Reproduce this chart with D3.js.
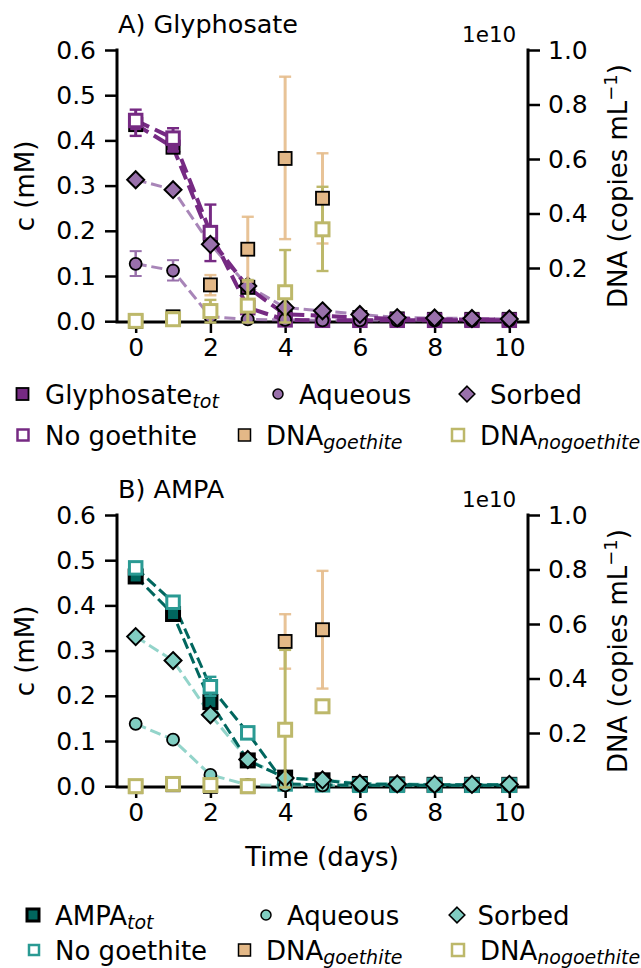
<!DOCTYPE html>
<html><head><meta charset="utf-8">
<script src="https://cdn.jsdelivr.net/npm/d3@7/dist/d3.min.js"></script>
<style>body{margin:0;background:#fff}svg text{font-family:"DejaVu Sans",sans-serif;fill:#000}</style>
</head><body><svg id="c" width="641" height="968"></svg>
<script>
const days = [0,1,2,3,4,5,6,7,8,9,10];
const dnaDays = [0,1,2,3,4,5];
const xTicks = [0,2,4,6,8,10];
const yTicksLeft = [0,0.1,0.2,0.3,0.4,0.5,0.6];
const yTicksRight = [0.2,0.4,0.6,0.8,1.0];

// Glyphosate (mM)
const glyTot     = [0.435,0.385,0.182,0.075,0.015,0.012,0.008,0.005,0.004,0.004,0.004];
const glyAq      = [0.127,0.112,0.010,0.004,0.003,0.002,0.002,0.002,0.002,0.002,0.002];
const glyAqLo    = [0.100,0.090,null,null,null,null,null,null,null,null,null];
const glyAqHi    = [0.155,0.135,null,null,null,null,null,null,null,null,null];
const glySorb    = [0.313,0.291,0.170,0.078,0.030,0.023,0.015,0.008,0.007,0.006,0.005];
const glyNoG     = [0.444,0.405,0.196,0.030,0.003,0.002,0.002,0.002,0.002,0.002,0.002];
const glyNoGLo   = [0.410,0.376,0.133,null,null,null,null,null,null,null,null];
const glyNoGHi   = [0.468,0.427,0.258,null,null,null,null,null,null,null,null];
// Glyphosate DNA (1e10 copies/mL)
const glyDnaG    = [0.004,0.021,0.138,0.269,0.602,0.456];
const glyDnaGLo  = [null,null,0.100,0.150,0.306,0.290];
const glyDnaGHi  = [null,null,0.174,0.388,0.902,0.621];
const glyDnaN    = [0.006,0.012,0.042,0.062,0.111,0.342];
const glyDnaNLo  = [null,null,0.000,0.000,0.000,0.189];
const glyDnaNHi  = [null,null,0.083,0.156,0.266,0.498];

// AMPA (mM)
const amTot      = [0.464,0.381,0.186,0.057,0.019,0.013,0.005,0.004,0.003,0.003,0.003];
const amAq       = [0.138,0.103,0.025,0.003,0.002,0.002,0.002,0.002,0.002,0.002,0.002];
const amSorb     = [0.331,0.278,0.158,0.059,0.018,0.014,0.006,0.005,0.004,0.004,0.004];
const amNoG      = [0.483,0.407,0.220,0.118,0.005,0.003,0.002,0.002,0.002,0.002,0.002];
const amNoGLo    = [null,null,0.200,null,null,null,null,null,null,null,null];
const amNoGHi    = [null,null,0.242,null,null,null,null,null,null,null,null];
// AMPA DNA (1e10 copies/mL)
const amDnaG     = [0.003,0.010,0.004,0.003,0.536,0.579];
const amDnaGLo   = [null,null,null,null,0.436,0.363];
const amDnaGHi   = [null,null,null,null,0.636,0.795];
const amDnaN     = [0.005,0.013,0.009,0.005,0.212,0.298];
const amDnaNLo   = [null,null,null,null,0.000,null];
const amDnaNHi   = [null,null,null,null,0.505,null];

const svg = d3.select("#c");
const FT = 25;   // tick labels
const FL = 26;   // labels / legend
const L = 117, R = 528;
const x = d3.scaleLinear().domain([-0.5,10.5]).range([L,R]);

function sq(g, cx, cy, s, fill, stroke, sw){
  g.append("rect").attr("x",cx-s/2).attr("y",cy-s/2).attr("width",s).attr("height",s)
   .attr("fill",fill).attr("stroke",stroke).attr("stroke-width",sw);
}
function diamond(g,cx,cy,r,fill,stroke,sw){
  g.append("path").attr("d",`M${cx},${cy-r}L${cx+r},${cy}L${cx},${cy+r}L${cx-r},${cy}Z`)
   .attr("fill",fill).attr("stroke",stroke).attr("stroke-width",sw);
}
function circ(g,cx,cy,r,fill,stroke,sw){
  g.append("circle").attr("cx",cx).attr("cy",cy).attr("r",r).attr("fill",fill).attr("stroke",stroke).attr("stroke-width",sw);
}
function dashLine(g, xs, vals, y, color, w, op){
  const line = d3.line().x((d,i)=>x(xs[i])).y(d=>y(d));
  g.append("path").datum(vals).attr("d",line).attr("fill","none").attr("stroke",color)
   .attr("stroke-width",w).attr("stroke-dasharray",`${w*3.7},${w*1.6}`).attr("opacity",op);
}
function errBars(g, xs, lo, hi, y, color, w, cap, op){
  xs.forEach((d,i)=>{
    if(lo[i]==null) return;
    const cx = x(d), y1=y(lo[i]), y2=y(hi[i]);
    g.append("line").attr("x1",cx).attr("x2",cx).attr("y1",y1).attr("y2",y2).attr("stroke",color).attr("stroke-width",w).attr("opacity",op);
    [y1,y2].forEach(yy=>g.append("line").attr("x1",cx-cap).attr("x2",cx+cap).attr("y1",yy).attr("y2",yy).attr("stroke",color).attr("stroke-width",w*0.8).attr("opacity",op));
  });
}

function panel(cfg){
  const top = cfg.top, bot = cfg.top + 272;
  const yl = d3.scaleLinear().domain([0,0.6]).range([bot-0.8,top]);
  const yr = d3.scaleLinear().domain([0,1.0]).range([bot+0.5,top]);
  const g = svg.append("g");
  const axL = g.append("g").attr("transform",`translate(${L},0)`)
    .call(d3.axisLeft(yl).tickValues(yTicksLeft).tickFormat(d3.format(".1f")).tickSize(12).tickPadding(9));
  const axR = g.append("g").attr("transform",`translate(${R},0)`)
    .call(d3.axisRight(yr).tickValues(yTicksRight).tickFormat(d3.format(".1f")).tickSize(12).tickPadding(8));
  const axB = g.append("g").attr("transform",`translate(0,${bot})`)
    .call(d3.axisBottom(x).tickValues(xTicks).tickSize(11).tickPadding(5));
  [axL,axR,axB].forEach(a=>{
    a.select(".domain").remove();
    a.selectAll("line").attr("stroke","#000").attr("stroke-width",2.5);
    a.selectAll("text").attr("font-size",FT).attr("font-family","DejaVu Sans").attr("fill","#000");
  });
  g.append("path").attr("d",`M${L},${top}V${bot}H${R}V${top}`).attr("fill","none").attr("stroke","#000").attr("stroke-width",3).attr("stroke-linecap","square");

  const p = g.append("g");
  dashLine(p, days, cfg.aq, yl, cfg.light, 3, 0.85);
  dashLine(p, days, cfg.sorb, yl, cfg.light, 3, 0.85);
  dashLine(p, days, cfg.tot, yl, cfg.dark, cfg.darkW, 1);
  dashLine(p, days, cfg.nog, yl, cfg.dark, cfg.darkW, 1);
  days.forEach((d,i)=>sq(p, x(d), yl(cfg.tot[i]), 13, cfg.dark, "#000", cfg.totEdge));
  errBars(p, days, cfg.nogLo, cfg.nogHi, yl, cfg.nogEdge, 3, 6, 1);
  days.forEach((d,i)=>sq(p, x(d), yl(cfg.nog[i]), 12.5, "#fff", cfg.nogEdge, 3));
  if(cfg.aqLo) errBars(p, days, cfg.aqLo, cfg.aqHi, yl, cfg.light, 2.5, 6, 1);
  days.forEach((d,i)=>circ(p, x(d), yl(cfg.aq[i]), 6, cfg.light, "#000", 1.8));
  days.forEach((d,i)=>diamond(p, x(d), yl(cfg.sorb[i]), 8.5, cfg.light, "#000", 2));
  errBars(p, dnaDays, cfg.dgLo, cfg.dgHi, yr, "#e6bd8c", 3, 6, 0.9);
  errBars(p, dnaDays, cfg.dnLo, cfg.dnHi, yr, "#bdb86a", 3, 6, 1);
  dnaDays.forEach((d,i)=>sq(p, x(d), yr(cfg.dg[i]), 13, "#e3b887", "#000", 1.8));
  dnaDays.forEach((d,i)=>sq(p, x(d), yr(cfg.dn[i]), 13, "#fff", "#bdb86a", 3));

  g.append("text").attr("x",118).attr("y",top-17).attr("font-size",25.5).text(cfg.title);
  g.append("text").attr("x",462).attr("y",top-8).attr("font-size",21.5).text("1e10");
  g.append("text").attr("transform",`translate(34,${(top+bot)/2}) rotate(-90)`).attr("text-anchor","middle").attr("font-size",FL).text("c (mM)");
  const rt = g.append("text").attr("transform",`translate(627,${(top+bot)/2}) rotate(-90)`).attr("text-anchor","middle").attr("font-size",FL);
  rt.append("tspan").text("DNA (copies mL");
  rt.append("tspan").attr("dy",-10).attr("font-size",18).text("\u22121");
  rt.append("tspan").attr("dy",10).text(")");
}

panel({top:50, title:"A) Glyphosate", dark:"#762a83", darkW:4, light:"#9970ab", nogEdge:"#762a83", totEdge:2,
  tot:glyTot, aq:glyAq, aqLo:glyAqLo, aqHi:glyAqHi, sorb:glySorb, nog:glyNoG, nogLo:glyNoGLo, nogHi:glyNoGHi,
  dg:glyDnaG, dgLo:glyDnaGLo, dgHi:glyDnaGHi, dn:glyDnaN, dnLo:glyDnaNLo, dnHi:glyDnaNHi});
panel({top:515, title:"B) AMPA", dark:"#01665e", darkW:3, light:"#80cdc1", nogEdge:"#2a9a93", totEdge:3,
  tot:amTot, aq:amAq, aqLo:null, aqHi:null, sorb:amSorb, nog:amNoG, nogLo:amNoGLo, nogHi:amNoGHi,
  dg:amDnaG, dgLo:amDnaGLo, dgHi:amDnaGHi, dn:amDnaN, dnLo:amDnaNLo, dnHi:amDnaNHi});

svg.append("text").attr("x",322).attr("y",866).attr("text-anchor","middle").attr("font-size",FL).text("Time (days)");

function legText(g, xx, yy, main, sub){
  const t = g.append("text").attr("x",xx).attr("y",yy+9.5).attr("font-size",FL).text(main);
  if(sub) t.append("tspan").attr("dy",4).attr("font-size",19).attr("font-style","italic").text(sub);
}
function legend(y1, y2, c, P){
  const g = svg.append("g");
  sq(g, P.a, y1, 12, c.dark, "#000", c.totEdge); legText(g, P.at, y1, c.totName, "tot");
  circ(g, P.b, y1, 5, c.light, "#000", 1.5); legText(g, P.bt, y1, "Aqueous");
  diamond(g, P.c, y1, 7.8, c.light, "#000", 1.6); legText(g, P.ct, y1, "Sorbed");
  sq(g, P.a2, y2, c.nogSize, "#fff", c.nogEdge, 2.5); legText(g, P.at, y2, "No goethite");
  sq(g, 244.5, y2, 12, "#e3b887", "#000", 1.5); legText(g, 266, y2, "DNA", "goethite");
  sq(g, 458, y2, 12, "#fff", "#bdb86a", 2.5); legText(g, 480, y2, "DNA", "nogoethite");
}
legend(394, 435, {dark:"#762a83", light:"#9970ab", nogEdge:"#762a83", totName:"Glyphosate", totEdge:1.8, nogSize:11},
  {a:22.5, at:45, a2:23, b:278, bt:299, c:467, ct:490});
legend(915, 950, {dark:"#01665e", light:"#80cdc1", nogEdge:"#2a9a93", totName:"AMPA", totEdge:3, nogSize:10},
  {a:33, at:55, a2:34, b:266, bt:287, c:457, ct:477.5});
</script></body></html>
